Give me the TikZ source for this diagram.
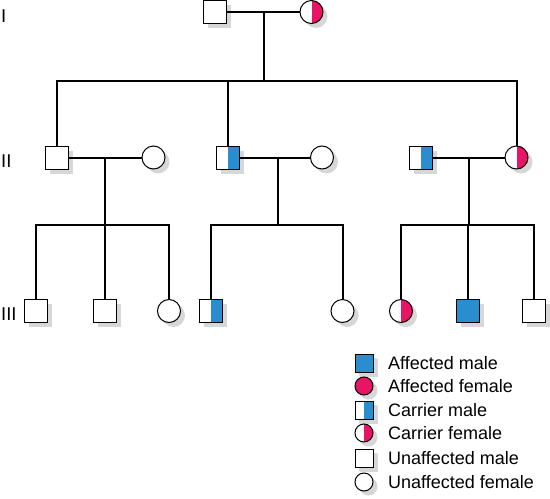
\documentclass[tikz,border=0pt]{standalone}
\usepackage{fontspec}
\setmainfont{Liberation Sans}
\usetikzlibrary{shadows}
\definecolor{affblue}{RGB}{41,141,206}
\definecolor{affpink}{RGB}{234,20,100}
\definecolor{shadowgray}{RGB}{215,215,215}
\tikzset{
  sym/.style={draw=black, line width=1pt, fill=white, inner sep=0pt, outer sep=0pt,
    drop shadow={shadow xshift=4.5pt, shadow yshift=-4.5pt, fill=shadowgray, opacity=1}},
  male/.style={sym, rectangle, minimum size=23pt},
  female/.style={sym, circle, minimum size=23pt},
  affm/.style={male, fill=affblue},
  afff/.style={female, fill=affpink},
  carm/.style={male, path picture={\fill[affblue] (path picture bounding box.north) rectangle (path picture bounding box.south east);}},
  carf/.style={female, path picture={\fill[affpink] (path picture bounding box.north) rectangle (path picture bounding box.south east);}},
  small/.style={minimum size=18pt, drop shadow={shadow xshift=4pt, shadow yshift=-4pt, fill=shadowgray, opacity=1}},
  conn/.style={line width=2pt, black, line join=miter},
  gen/.style={anchor=west, inner sep=0pt, font=\fontsize{18.5}{20}\selectfont},
  legtext/.style={anchor=west, inner sep=0pt, font=\fontsize{18}{20}\selectfont}
}
\begin{document}
\begin{tikzpicture}[x=1pt, y=-1pt]
\useasboundingbox (0,0) rectangle (550,499);
% Generation I
\node[male] (i1) at (215,12) {};
\node[carf] (i2) at (311.5,12) {};
% Generation II
\node[male] (ii1) at (57,157.5) {};
\node[female] (ii2) at (153.5,157.5) {};
\node[carm] (ii3) at (227.5,157.5) {};
\node[female] (ii4) at (322,157.5) {};
\node[carm] (ii5) at (420.5,157.5) {};
\node[carf] (ii6) at (516.5,157.5) {};
% Generation III
\node[male] (iii1) at (36,311) {};
\node[male] (iii2) at (105,311) {};
\node[female] (iii3) at (169,311) {};
\node[carm] (iii4) at (211,311) {};
\node[female] (iii5) at (342.5,311) {};
\node[carf] (iii6) at (401,311) {};
\node[affm] (iii7) at (467.5,311) {};
\node[male] (iii8) at (534,311) {};
% coordinates
\coordinate (mI) at (264,12);
\coordinate (sI) at (264,81);
\coordinate (m1) at (105,157.5);
\coordinate (s1) at (105,225);
\coordinate (m2) at (277.5,157.5);
\coordinate (s2) at (277.5,225);
\coordinate (m3) at (469,157.5);
\coordinate (s3) at (469,225);
% connectors gen I
\draw[conn] (i1) -- (i2);
\draw[conn] (mI) -- (sI);
\draw[conn] (ii1.north) |- (sI) -| (ii6.north);
\draw[conn] (ii3.north) -- (ii3.north |- sI);
% family 1
\draw[conn] (ii1) -- (ii2);
\draw[conn] (m1) -- (s1);
\draw[conn] (iii1.north) |- (s1) -| (iii3.north);
\draw[conn] (iii2.north) -- (iii2.north |- s1);
% family 2
\draw[conn] (ii3) -- (ii4);
\draw[conn] (m2) -- (s2);
\draw[conn] (iii4.north) |- (s2) -| (iii5.north);
% family 3
\draw[conn] (ii5) -- (ii6);
\draw[conn] (m3) -- (s3);
\draw[conn] (iii6.north) |- (s3) -| (iii8.north);
\draw[conn] (iii7.north) -- (iii7.north |- s3);
% generation labels
\node[gen] (gI) at (1,16) {I};
\node[gen] (gII) at (1,161) {II};
\node[gen] (gIII) at (1,314) {III};
% legend
\node[affm, small] (l1) at (364,363) {};
\node[afff, small] (l2) at (364,386) {};
\node[carm, small] (l3) at (364,410) {};
\node[carf, small] (l4) at (364,433) {};
\node[male, small] (l5) at (364,458) {};
\node[female, small] (l6) at (364,482) {};
\node[legtext] (t1) at (388,363) {Affected male};
\node[legtext] (t2) at (388,386) {Affected female};
\node[legtext] (t3) at (388,410) {Carrier male};
\node[legtext] (t4) at (388,433) {Carrier female};
\node[legtext] (t5) at (388,458) {Unaffected male};
\node[legtext] (t6) at (388,482) {Unaffected female};
\end{tikzpicture}
\end{document}
